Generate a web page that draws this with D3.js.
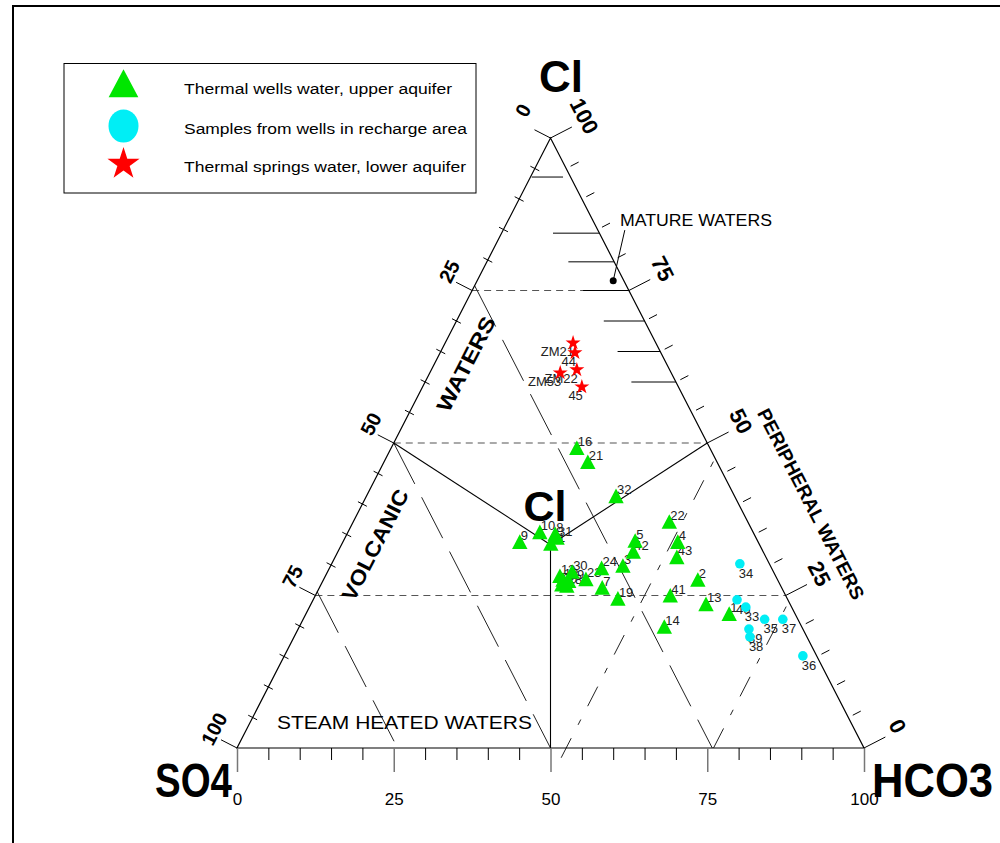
<!DOCTYPE html>
<html lang="en">
<head>
<meta charset="UTF-8">
<title>Cl-SO4-HCO3 ternary</title>
<script src="https://d3js.org/d3.v7.min.js"></script>
<style>
  body { margin: 0; background: #fff; }
  svg { display: block; font-family: "Liberation Sans", Arial, sans-serif; }
</style>
</head>
<body>
<div id="chart"></div>
<script>
// ---- data (percent Cl, SO4, HCO3) ----
const wellIds  = ["1","2","3","4","5","7","8","9","10","11","12","13","14","16","18","19","20","21","22","23","24","28","29","30","31","32","41","42","43"];
const wellCl   = [21.8,27.4,29.7,33.6,33.8,26.1,34.9,33.6,35.2,33.3,28.0,23.4,19.7,49.0,27.4,24.3,26.6,46.7,36.9,27.5,29.3,26.4,27.2,28.7,34.3,41.1,24.8,32.0,31.1];
const wellSO4  = [10.6,12.8,23.6,12.9,19.6,28.7,31.8,38.1,34.1,33.3,34.5,13.5,22.0,21.3,34.3,27.1,34.9,20.7,12.6,30.6,27.2,34.2,33.5,32.2,31.8,19.0,18.5,20.8,14.3];
const wellHCO3 = [67.6,59.8,46.7,53.5,46.6,45.2,33.3,28.3,30.7,33.4,37.5,63.1,58.3,29.7,38.3,48.6,38.5,32.6,50.5,41.9,43.5,39.4,39.3,39.1,33.9,39.9,56.7,47.2,54.6];

const rechargeIds  = ["33","34","35","36","37","38","39","40"];
const rechargeCl   = [23.1,30.2,21.1,15.1,21.1,18.2,19.5,24.3];
const rechargeSO4  = [7.3,4.7,5.3,2.2,2.4,9.1,8.6,8.1];
const rechargeHCO3 = [69.6,65.1,73.6,82.7,76.5,72.7,71.9,67.6];

const springIds  = ["ZM21","44","ZM22","ZM53","45"];
const springCl   = [66.4,64.8,62.0,61.5,59.2];
const springSO4  = [13.2,13.7,14.8,17.7,15.4];
const springHCO3 = [20.4,21.5,23.2,20.8,25.4];

const axisTicks = [0,25,50,75,100];
const clLevels = [25,50,75];            // dashed horizontal lines
const so4Lines = [74.4,50,24.2];        // long-dash lines of constant SO4
const hco3Lines = [52.5,76];            // dash-dot lines of constant HCO3
const hco3LineStart = [-1.6,0];         // Cl where each dash-dot line starts
// hatch marks of the mature-water field: Cl level, SO4 from, SO4 to
const matureCl  = [93.6,84.4,79.7,75,70,65,60];
const matureS0  = [1.2,0,0,0,0,0,0];
const matureS1  = [6.2,7.4,7.3,7.3,6.5,6.8,7.1];
const matureDot = [76.6,1.7,21.7];
const legendNames = ["Thermal wells water, upper aquifer","Samples from wells in recharge area","Thermal springs water, lower aquifer"];

// ---- setup ----
const W = 1000, H = 843;
const svg = d3.select("#chart").append("svg").attr("width", W).attr("height", H);

const x = d3.scaleLinear().domain([0,100]).range([237,864]);
const y = d3.scaleLinear().domain([0,100]).range([748,138]);
const pt = (cl, hco3) => [x(hco3 + cl/2), y(cl)];

const pSO4 = pt(0,0), pHCO3 = pt(0,100), pCl = pt(100,0);
function unit(a, b) { const dx = b[0]-a[0], dy = b[1]-a[1], l = Math.hypot(dx,dy); return [dx/l, dy/l]; }
const uL = unit(pSO4, pCl), nL = [uL[1], -uL[0]];
const uR = unit(pHCO3, pCl), nR = [-uR[1], uR[0]];
const angL = Math.atan2(uL[1], uL[0]) * 180/Math.PI;
const angR = Math.atan2(-uR[1], -uR[0]) * 180/Math.PI;
const line = d3.line();
const add = (p, v, k) => [p[0] + v[0]*k, p[1] + v[1]*k];

// outer frame
svg.append("path").attr("d", `M13,${H} V6 H${W}`).attr("fill","none").attr("stroke","#000").attr("stroke-width",2);

// field lines
const g = svg.append("g").attr("fill","none");
clLevels.forEach(v => {
  g.append("path").attr("d", line([pt(v,0), pt(v,100-v)]))
    .attr("stroke","#555").attr("stroke-width",1.1).attr("stroke-dasharray","7,5");
});
so4Lines.forEach(s => {
  g.append("path").attr("d", line([pt(100-s,0), pt(0,100-s)]))
    .attr("stroke","#222").attr("stroke-width",1).attr("stroke-dasharray","46,15");
});
hco3Lines.forEach((h,i) => {
  g.append("path").attr("d", line([pt(hco3LineStart[i],h), pt(100-h,h)]))
    .attr("stroke","#222").attr("stroke-width",1).attr("stroke-dasharray","22,15,6,15");
});
// solid division lines from the centre
const centre = pt(100/3, 100/3);
[pt(50,0), pt(50,50), pt(0,50)].forEach(p => {
  g.append("path").attr("d", line([centre, p])).attr("stroke","#000").attr("stroke-width",1.1);
});
// mature water hatch
matureCl.forEach((c,i) => {
  g.append("path").attr("d", line([pt(c, 100-c-matureS0[i]), pt(c, 100-c-matureS1[i])]))
    .attr("stroke","#000").attr("stroke-width",1);
});

// triangle outline
svg.append("path").attr("d", line([pSO4, pHCO3, pCl]) + "Z")
  .attr("fill","none").attr("stroke","#000").attr("stroke-width",1.2);

// bottom axis (HCO3)
const axMinor = svg.append("g").attr("transform","translate(0,748)")
  .call(d3.axisBottom(x).tickValues(d3.range(5,100,5).filter(v => v % 25)).tickSize(12).tickFormat(""));
axMinor.select(".domain").remove();
const axMajor = svg.append("g").attr("transform","translate(0,748)")
  .call(d3.axisBottom(x).tickValues(axisTicks).tickSize(24).tickPadding(21));
axMajor.select(".domain").remove();
axMajor.selectAll("line").attr("stroke","#777").attr("stroke-width",1.5);
axMajor.selectAll("text").attr("font-size",17).attr("font-family","Liberation Sans, Arial, sans-serif").attr("fill","#000");

// left side ticks (SO4)
d3.range(0,101,5).forEach(v => {
  const p = pt(100-v, 0);
  if (v % 25) {
    svg.append("path").attr("d", line([add(p,nL,-5), add(p,nL,5)])).attr("stroke","#000");
  } else {
    svg.append("path").attr("d", line([p, add(p,nL,18)])).attr("stroke","#000");
    const q = v === 0 ? add(add(p,nL,37), uL, 12) : add(add(p,nL,29), uL, 6.5);
    svg.append("text").attr("transform",`translate(${q[0]},${q[1]}) rotate(${angL})`)
      .attr("text-anchor","middle").attr("dy","0.35em").attr("font-size",20).attr("font-weight","bold").text(v);
  }
});
// right side ticks (Cl)
d3.range(0,101,5).forEach(v => {
  const p = pt(v, 100-v);
  if (v % 25) {
    svg.append("path").attr("d", line([add(p,nR,5), add(p,nR,14)])).attr("stroke","#000");
  } else {
    svg.append("path").attr("d", line([p, add(p,nR,24)])).attr("stroke","#000");
    const q = add(add(p,nR,40), uR, 4);
    svg.append("text").attr("transform",`translate(${q[0]},${q[1]}) rotate(${angR})`)
      .attr("text-anchor","middle").attr("dy","0.35em").attr("font-size",22).attr("font-weight","bold").text(v);
  }
});

// vertex and field titles
svg.append("text").attr("x",561).attr("y",92).attr("text-anchor","middle").attr("font-size",44).attr("font-weight","bold").text("Cl");
svg.append("text").attr("x",545).attr("y",521).attr("text-anchor","middle").attr("font-size",43).attr("font-weight","bold").text("Cl");
svg.append("text").attr("x",155).attr("y",797).attr("font-size",48).attr("font-weight","bold")
  .attr("textLength",77).attr("lengthAdjust","spacingAndGlyphs").text("SO4");
svg.append("text").attr("x",872).attr("y",797).attr("font-size",48).attr("font-weight","bold")
  .attr("textLength",121).attr("lengthAdjust","spacingAndGlyphs").text("HCO3");

const rotText = (cx, cy, ang, size, len, txt) =>
  svg.append("text").attr("transform",`translate(${cx},${cy}) rotate(${ang})`)
    .attr("text-anchor","middle").attr("dy","0.35em").attr("font-size",size).attr("font-weight","bold")
    .attr("textLength",len).attr("lengthAdjust","spacingAndGlyphs").text(txt);
rotText(466,364,angL,21,104,"WATERS");
rotText(375,545,angL,21,122,"VOLCANIC");
rotText(811,504,angR,19,212,"PERIPHERAL WATERS");

svg.append("text").attr("x",277).attr("y",729).attr("font-size",19)
  .attr("textLength",255).attr("lengthAdjust","spacingAndGlyphs").text("STEAM HEATED WATERS");
svg.append("text").attr("x",620).attr("y",226).attr("font-size",16)
  .attr("textLength",152).attr("lengthAdjust","spacingAndGlyphs").text("MATURE WATERS");
const md = pt(matureDot[0], matureDot[2]);
svg.append("path").attr("d", line([md, pt(84.9,19.4)])).attr("stroke","#000");
svg.append("circle").attr("cx",md[0]).attr("cy",md[1]).attr("r",3.5).attr("fill","#000");

// markers
const GREEN = "#00e600", CYAN = "#00eef5", RED = "#ff0000";
const triPath = s => `M0,${-s*0.62}L${s*0.55},${s*0.42}L${-s*0.55},${s*0.42}Z`;
const star = d3.symbol().type(d3.symbolStar);

const wells = wellIds.map((id,i) => ({id, cl: wellCl[i], s: wellSO4[i], h: wellHCO3[i]}));
const recharge = rechargeIds.map((id,i) => ({id, cl: rechargeCl[i], s: rechargeSO4[i], h: rechargeHCO3[i]}));
const springs = springIds.map((id,i) => ({id, cl: springCl[i], s: springSO4[i], h: springHCO3[i]}));

const lab = svg.append("g").attr("font-size",13).attr("fill","#222");

svg.append("g").selectAll("path").data(wells).join("path")
  .attr("transform", d => `translate(${pt(d.cl,d.h)})`).attr("d", triPath(14)).attr("fill",GREEN);
lab.selectAll(".wl").data(wells).join("text")
  .attr("x", d => pt(d.cl,d.h)[0] + 1).attr("y", d => pt(d.cl,d.h)[1] - 3).text(d => d.id);

svg.append("g").selectAll("circle").data(recharge).join("circle")
  .attr("cx", d => pt(d.cl,d.h)[0]).attr("cy", d => pt(d.cl,d.h)[1]).attr("r",4.8).attr("fill",CYAN);
lab.selectAll(".rl").data(recharge).join("text")
  .attr("x", d => pt(d.cl,d.h)[0] - 1).attr("y", d => pt(d.cl,d.h)[1] + 14).text(d => d.id);

svg.append("g").selectAll("path").data(springs).join("path")
  .attr("transform", d => `translate(${pt(d.cl,d.h)})`).attr("d", star.size(70)).attr("fill",RED);
lab.selectAll(".sl").data(springs).join("text").attr("text-anchor","end")
  .attr("x", d => pt(d.cl,d.h)[0] + 1).attr("y", d => pt(d.cl,d.h)[1] + 13).text(d => d.id);

// legend
const lg = svg.append("g");
lg.append("rect").attr("x",64).attr("y",63.5).attr("width",412).attr("height",129.5)
  .attr("fill","#fff").attr("stroke","#000").attr("stroke-width",1);
lg.append("path").attr("transform","translate(123.5,86)").attr("d", triPath(27)).attr("fill",GREEN);
lg.append("ellipse").attr("cx",123.5).attr("cy",126).attr("rx",15).attr("ry",16.5).attr("fill",CYAN);
lg.append("path").attr("transform","translate(123.5,164)").attr("d", star.size(320)).attr("fill",RED);
const lgLen = [268,283,282], lgY = [94,134,172];
legendNames.forEach((t,i) => {
  lg.append("text").attr("x",184).attr("y",lgY[i]).attr("font-size",15.5)
    .attr("textLength",lgLen[i]).attr("lengthAdjust","spacingAndGlyphs").text(t);
});
</script>
</body>
</html>
